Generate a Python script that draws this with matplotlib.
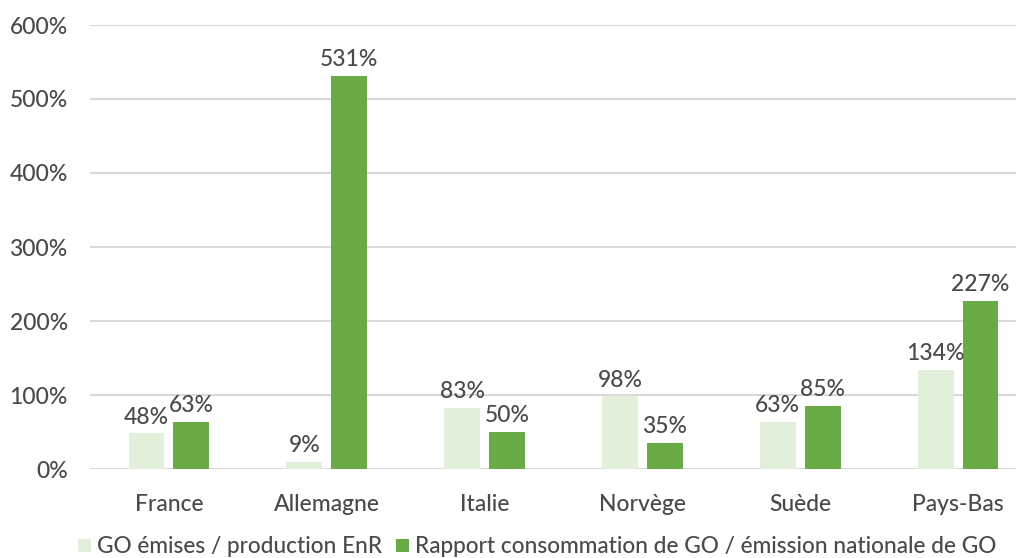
import matplotlib.pyplot as plt
import numpy as np

plt.rcParams['font.family'] = ['Lato', 'DejaVu Sans']

pays = ['France', 'Allemagne', 'Italie', 'Norvège', 'Suède', 'Pays-Bas']
go_emises = [48, 9, 83, 98, 63, 134]
rapport_conso = [63, 531, 50, 35, 85, 227]
noms_series = ['GO émises / production EnR',
               'Rapport consommation de GO / émission nationale de GO']
yticks = [0, 100, 200, 300, 400, 500, 600]

texte = '#4a4a4a'
clair = '#E2EFDA'
fonce = '#6AAB47'

fig = plt.figure(figsize=(10.16, 5.58), dpi=100)
ax = fig.add_axes([90 / 1016, 89 / 558, 947 / 1016, 444 / 558])

x = np.arange(len(pays))
w = 0.228
b1 = ax.bar(x - 0.142, go_emises, w, color=clair, label=noms_series[0], zorder=2)
b2 = ax.bar(x + 0.142, rapport_conso, w, color=fonce, label=noms_series[1], zorder=2)

for bars, vals in [(b1, go_emises), (b2, rapport_conso)]:
    for r, v in zip(bars, vals):
        ax.text(r.get_x() + r.get_width() / 2, v + 8, f'{v}%', ha='center', va='bottom',
                fontsize=16.5, color=texte, fontweight='medium')

ax.set_xlim(-0.5, len(pays) - 0.5)
ax.set_ylim(0, 600)
ax.set_yticks(yticks)
ax.set_yticklabels([f'{t}%' for t in yticks])
ax.set_xticks(x)
ax.set_xticklabels(pays)
for lab in ax.get_xticklabels() + ax.get_yticklabels():
    lab.set_fontweight('medium')
ax.grid(axis='y', color='#D9D9D9', linewidth=1.5, zorder=0)
ax.tick_params(axis='both', length=0, labelsize=16.5, labelcolor=texte)
ax.tick_params(axis='y', pad=16)
ax.tick_params(axis='x', pad=18)
for s in ax.spines.values():
    s.set_visible(False)

fig.legend(loc='center', bbox_to_anchor=(0.529, 0.02), ncol=2, frameon=False,
           prop={'size': 16.3, 'weight': 'medium'}, labelcolor=texte,
           handlelength=0.55, handleheight=0.55, handletextpad=0.3, columnspacing=0.6)

fig.savefig('out.png', dpi=100)
